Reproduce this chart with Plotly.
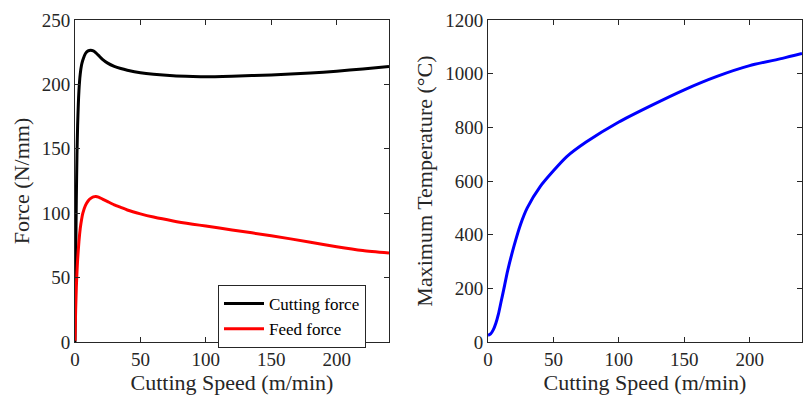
import plotly.graph_objects as go
from plotly.subplots import make_subplots

# Data
speed_force = [0, 0.5, 1, 1.5, 2, 3, 4, 5, 6, 8, 10, 12, 14, 16, 18, 21, 25, 30, 35, 40, 50, 60, 75, 90, 100, 120, 150, 180, 200, 220, 240]
cutting_force = [0, 60, 110, 145, 168, 195, 208, 215, 219, 224, 226, 226.5, 226, 224.5, 222.5, 219.5, 216.5, 214, 212.3, 211, 209, 207.8, 206.7, 206.2, 206, 206.4, 207.3, 208.8, 210.3, 212, 214]
feed_force = [1, 25, 42, 54, 64, 78, 88, 95, 100, 106, 109.5, 111.5, 112.7, 113, 112.5, 111, 109, 106.5, 104.5, 102.5, 99.5, 97, 94, 91.5, 90, 87, 82.5, 77.5, 74, 71, 69]

speed_temp = [0, 2, 4, 6, 8, 10, 12, 15, 20, 25, 30, 40, 50, 60, 75, 100, 125, 150, 175, 200, 225, 240]
max_temp = [25, 30, 45, 70, 105, 150, 195, 265, 360, 440, 500, 580, 638, 690, 745, 820, 882, 940, 990, 1030, 1057, 1075]

x_ticks = [0, 50, 100, 150, 200]
force_ticks = [0, 50, 100, 150, 200, 250]
temp_ticks = [0, 200, 400, 600, 800, 1000, 1200]

FONT = "Liberation Serif"
AX = "#262626"

fig = make_subplots(rows=1, cols=2)

fig.add_trace(go.Scatter(x=speed_force, y=cutting_force, mode="lines", name="Cutting force",
                         line=dict(color="black", width=3, shape="spline", smoothing=0.6)), row=1, col=1)
fig.add_trace(go.Scatter(x=speed_force, y=feed_force, mode="lines", name="Feed force",
                         line=dict(color="#ff0000", width=3, shape="spline", smoothing=0.6)), row=1, col=1)
fig.add_trace(go.Scatter(x=speed_temp, y=max_temp, mode="lines", name="Maximum temperature",
                         showlegend=False,
                         line=dict(color="#0000ff", width=3, shape="spline", smoothing=0.6)), row=1, col=2)

axis_common = dict(showgrid=False, zeroline=False, showline=True, linecolor=AX, linewidth=1,
                   mirror="ticks", ticks="inside", ticklen=5, tickcolor=AX, automargin=False,
                   tickfont=dict(family=FONT, size=19, color=AX))
TITLE_FONT = dict(family=FONT, size=22, color=AX)

fig.update_xaxes(**axis_common, range=[0, 240], tickvals=x_ticks,
                 title=dict(text="Cutting Speed (m/min)", font=TITLE_FONT, standoff=4))
fig.update_yaxes(**axis_common)

fig.update_layout(
    width=803, height=400,
    margin=dict(l=0, r=0, t=0, b=0),
    paper_bgcolor="white", plot_bgcolor="white",
    xaxis=dict(domain=[75/803, 389/803]),
    xaxis2=dict(domain=[488/803, 802/803]),
    yaxis=dict(domain=[1-342/400, 1-20/400], range=[0, 250], tickvals=force_ticks,
               title=dict(text="Force (N/mm)", font=TITLE_FONT, standoff=6)),
    yaxis2=dict(domain=[1-342/400, 1-20/400], range=[0, 1200], tickvals=temp_ticks,
                title=dict(text="Maximum Temperature (°C)", font=TITLE_FONT, standoff=6)),
    legend=dict(x=218/803, xanchor="left", y=1-285/400, yanchor="top",
                bgcolor="white", bordercolor=AX, borderwidth=1,
                font=dict(family=FONT, size=17, color="black"),
                itemwidth=40, tracegroupgap=0),
    showlegend=True,
)

fig.write_html("out.html")
